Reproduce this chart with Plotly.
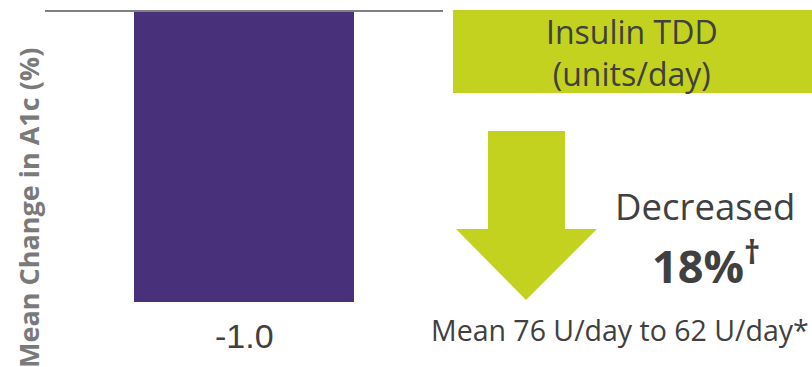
import plotly.graph_objects as go

# Data
categories = ["A1c"]
a1c_change = [-1.0]
tdd_start = 76
tdd_end = 62
tdd_pct_decrease = 18

W, H = 812, 367
L, R, T, B = 45, 369, 12, 65
PW, PH = W - L - R, H - T - B


def px(x):
    return (x - L) / PW


def py(y):
    return (H - B - y) / PH


BAR = "#48307A"
GREEN = "#C3D21F"
DARK = "#404040"
GRAY = "#7A7A7A"

fig = go.Figure()
fig.add_trace(go.Bar(
    x=[0], y=a1c_change, width=0.555,
    marker=dict(color=BAR, line=dict(width=0)),
    hoverinfo="skip", showlegend=False,
))

annotations = [
    dict(x=0, y=a1c_change[0], xref="x", yref="y", text=f"{a1c_change[0]:.1f}",
         showarrow=False, yanchor="top", yshift=-13,
         font=dict(family="Liberation Sans Narrow, Arial Narrow, Liberation Sans", size=34, color=DARK)),
    dict(x=px(28), y=py(208), xref="paper", yref="paper", text="<b>Mean Change in A1c (%)</b>",
         textangle=-90, showarrow=False, xanchor="center", yanchor="middle",
         font=dict(family="Open Sans", size=27, color=GRAY)),
    dict(x=px(632), y=py(53), xref="paper", yref="paper", text="Insulin TDD<br>(units/day)",
         showarrow=False, xanchor="center", yanchor="middle",
         font=dict(family="Open Sans", size=32, color=DARK)),
    dict(x=px(705), y=py(206), xref="paper", yref="paper", text="Decreased",
         showarrow=False, xanchor="center", yanchor="middle",
         font=dict(family="Open Sans", size=36.5, color=DARK)),
    dict(x=px(706), y=py(263), xref="paper", yref="paper",
         text=f"<b>{tdd_pct_decrease}%<sup>†</sup></b>",
         showarrow=False, xanchor="center", yanchor="middle",
         font=dict(family="Open Sans", size=45, color=DARK)),
    dict(x=px(620), y=py(330), xref="paper", yref="paper",
         text=f"Mean {tdd_start} U/day to {tdd_end} U/day*",
         showarrow=False, xanchor="center", yanchor="middle",
         font=dict(family="Open Sans", size=28.5, color=DARK)),
]

# Arrow outline in pixel space
arrow_pts = [(488, 131), (565, 131), (565, 229), (597, 229), (526, 300), (456, 229), (488, 229)]
arrow_path = "M " + " L ".join(f"{px(x):.5f},{py(y):.5f}" for x, y in arrow_pts) + " Z"

shapes = [
    dict(type="rect", xref="paper", yref="paper", x0=px(453), x1=px(814), y0=py(93), y1=py(10),
         fillcolor=GREEN, line=dict(width=0), layer="below"),
    dict(type="path", xref="paper", yref="paper", path=arrow_path,
         fillcolor=GREEN, line=dict(width=0)),
]

fig.update_layout(
    width=W, height=H,
    margin=dict(l=L, r=R, t=T, b=B, pad=0),
    paper_bgcolor="white", plot_bgcolor="white",
    xaxis=dict(range=[-0.5, 0.5], side="top", showline=True, linecolor="#808080", linewidth=2,
               showgrid=False, zeroline=False, showticklabels=False, ticks=""),
    yaxis=dict(range=[-1.0, 0], showgrid=False, zeroline=False, showticklabels=False,
               ticks="", showline=False),
    annotations=annotations,
    shapes=shapes,
    bargap=0,
)

fig.write_html("out.html")
